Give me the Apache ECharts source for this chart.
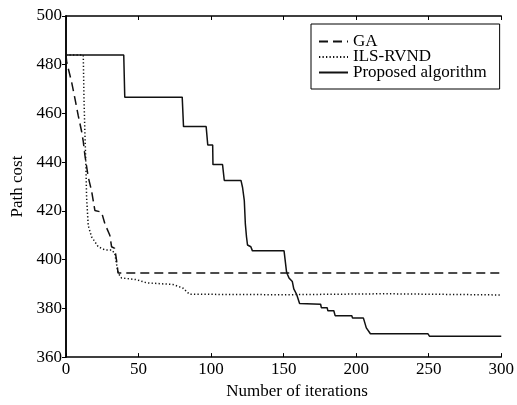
<!DOCTYPE html>
<html>
<head>
<meta charset="utf-8">
<script src="https://cdn.jsdelivr.net/npm/echarts@6/dist/echarts.min.js"></script>
<style>
  html, body { margin: 0; padding: 0; background: #fff; }
  #chart { width: 517px; height: 405px; }
</style>
</head>
<body>
<div id="chart"></div>
<script>
// series names
var seriesNames = ['GA', 'ILS-RVND', 'Proposed algorithm'];

// x tick labels / y tick labels
var xTicks = [0, 50, 100, 150, 200, 250, 300];
var yTicks = [360, 380, 400, 420, 440, 460, 480, 500];

// [iteration, path cost]
var gaData = [
  [0, 484], [0.5, 481], [3.9, 472.8], [6.2, 466], [8.4, 459.2], [10.8, 452.5],
  [11.9, 448.5], [13, 443], [15.3, 434], [17.6, 428.3], [19.9, 420.2], [24.5, 419.5],
  [26.8, 414.7], [30.2, 410], [31.4, 405.3], [33.6, 404.6], [34.8, 399.9], [35.9, 394.5],
  [300, 394.5]
];

var ilsData = [
  [0, 484], [11.9, 484], [12.4, 466], [13, 452.5], [13.7, 439], [14.2, 425.5],
  [15.3, 414], [17.6, 409.4], [22.2, 405.3], [26.8, 404], [31.4, 404], [33.6, 402.6],
  [35.9, 394.5], [38.2, 392.5], [48.5, 391.8], [55.4, 390.5], [73.6, 389.8], [80.4, 388.4],
  [85.1, 385.8], [150, 385.6], [220, 386], [300, 385.5]
];

var proposedData = [
  [0, 484], [39.8, 484], [40.5, 466.7], [80.1, 466.7], [81, 454.6], [96.6, 454.6],
  [97.7, 447.1], [101.1, 447.1], [101.3, 439], [107.9, 439], [109.1, 432.5], [120.6, 432.5],
  [121.7, 429.6], [122.9, 424.2], [123.6, 414.8], [124.4, 409.4], [125.1, 406], [127.4, 405.3],
  [128.5, 403.6], [150.3, 403.6], [152, 395], [152.6, 394], [153.7, 392.5], [156, 391],
  [157, 388], [159, 385.7], [161, 382], [162, 381.7], [175.5, 381.7], [176, 380.3],
  [180, 380.3], [180.5, 379], [184.6, 379], [185.5, 377], [197, 377], [197.5, 376],
  [205, 376], [207, 372], [209.8, 369.6], [249.4, 369.6], [250.5, 368.6], [300, 368.6]
];

var font = 'Liberation Serif';
var dom = document.getElementById('chart');
var myChart = echarts.init(dom, null, { renderer: 'canvas' });

var option = {
  animation: false,
  backgroundColor: '#fff',
  grid: { left: 66, right: 14, top: 16, bottom: 43, containLabel: false },
  legend: {
    orient: 'vertical',
    left: 311,
    top: 24,
    padding: [9, 13, 8, 7],
    itemWidth: 29,
    itemHeight: 12,
    itemGap: -1.5,
    backgroundColor: '#fff',
    borderColor: '#000',
    borderWidth: 1,
    itemStyle: { opacity: 0 },
    textStyle: { fontFamily: font, fontSize: 17, color: '#000' },
    data: seriesNames
  },
  xAxis: [
    {
      type: 'value', min: xTicks[0], max: xTicks[xTicks.length - 1], interval: 50,
      position: 'bottom',
      name: 'Number of iterations', nameLocation: 'middle', nameGap: 21,
      nameTextStyle: { fontFamily: font, fontSize: 17, color: '#000', padding: [0, 0, 0, 27] },
      axisLine: { lineStyle: { color: '#000', width: 1.5 } },
      axisTick: { inside: true, length: 4, lineStyle: { color: '#000' } },
      axisLabel: { margin: 4, fontFamily: font, fontSize: 17, color: '#000' },
      splitLine: { show: false }
    },
    {
      type: 'value', min: xTicks[0], max: xTicks[xTicks.length - 1], interval: 50,
      position: 'top',
      axisLine: { lineStyle: { color: '#000', width: 1.5 } },
      axisTick: { inside: true, length: 4, lineStyle: { color: '#000' } },
      axisLabel: { show: false },
      splitLine: { show: false }
    }
  ],
  yAxis: [
    {
      type: 'value', min: yTicks[0], max: yTicks[yTicks.length - 1], interval: 20,
      position: 'left',
      name: 'Path cost', nameLocation: 'middle', nameGap: 39,
      nameTextStyle: { fontFamily: font, fontSize: 17, color: '#000' },
      axisLine: { show: true, lineStyle: { color: '#000', width: 1.5 } },
      axisTick: { show: true, inside: false, length: 4, lineStyle: { color: '#000' } },
      axisLabel: { margin: 4, fontFamily: font, fontSize: 17, color: '#000' },
      splitLine: { show: false }
    },
    {
      type: 'value', min: yTicks[0], max: yTicks[yTicks.length - 1], interval: 20,
      position: 'right',
      axisLine: { show: true, lineStyle: { color: '#000', width: 1.5 } },
      axisTick: { show: true, inside: true, length: 4, lineStyle: { color: '#000' } },
      axisLabel: { show: false },
      splitLine: { show: false }
    }
  ],
  series: [
    {
      name: seriesNames[0], type: 'line', data: gaData,
      symbol: 'none', lineStyle: { color: '#111', width: 1.5, type: [9, 5] },
      itemStyle: { color: '#111' }
    },
    {
      name: seriesNames[1], type: 'line', data: ilsData,
      symbol: 'none', lineStyle: { color: '#111', width: 1.5, type: [1.3, 2.2] },
      itemStyle: { color: '#111' }
    },
    {
      name: seriesNames[2], type: 'line', data: proposedData,
      symbol: 'none', lineStyle: { color: '#111', width: 1.5, type: 'solid' },
      itemStyle: { color: '#111' }
    }
  ]
};

if (option && typeof option === 'object') {
  myChart.setOption(option, true);
}
</script>
</body>
</html>
